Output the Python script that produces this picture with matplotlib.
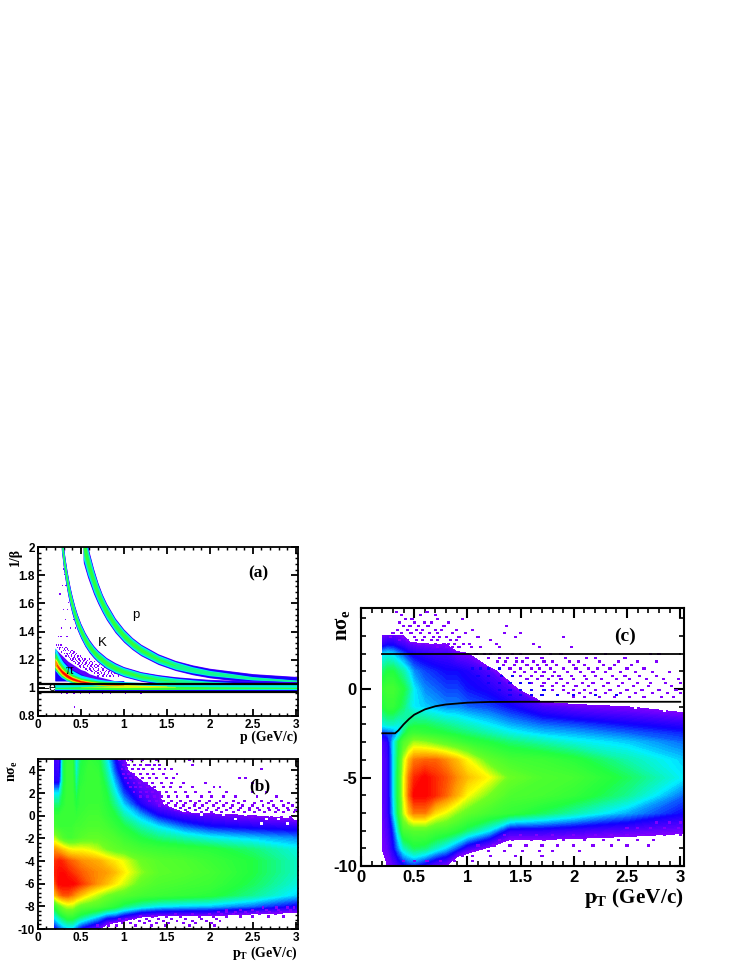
import matplotlib
matplotlib.use("Agg")
import matplotlib.pyplot as plt
import numpy as np
from matplotlib.colors import LinearSegmentedColormap

plt.rcParams['mathtext.default'] = 'regular'

E = -0.2  # no entries

# panel (a): band centres and half widths
p_prot = [.53,.55,.58,.60,.65,.70,.75,.80,.90,1.0,1.1,1.2,1.4,1.6,1.8,2.0,2.5,3.03]
y_prot = [2.03,1.977,1.90,1.856,1.756,1.672,1.601,1.541,1.444,1.371,1.314,1.269,1.204,1.159,1.128,1.105,1.068,1.048]
hw_prot_outer = [.14,.13,.115,.105,.09,.075,.065,.06,.052,.047,.043,.041,.038,.036,.035,.034,.033,.032]
hw_prot_cyan = [.115,.105,.095,.085,.073,.061,.053,.049,.042,.038,.035,.033,.029,.027,.022,.019,.012,.006]
hw_prot_green = [.048,.044,.04,.036,.03,.026,.022,.021,.018,.016,.014,.012,.008,.003,0,0,0,0]
p_kaon = [.275,.30,.32,.34,.36,.38,.40,.43,.46,.50,.55,.60,.65,.70,.80,.90,1.0,1.2,1.4,1.6,1.8,2.0,2.5,3.03]
y_kaon = [2.056,1.926,1.839,1.764,1.698,1.64,1.589,1.523,1.467,1.406,1.344,1.295,1.256,1.224,1.175,1.141,1.115,1.081,1.061,1.047,1.037,1.030,1.019,1.013]
hw_kaon_outer = [.08,.078,.075,.072,.07,.067,.065,.06,.057,.053,.05,.047,.044,.042,.04,.038,.036,.034,.033,.032,.032,.03,.03,.03]
hw_kaon_cyan = [.062,.06,.056,.056,.054,.052,.05,.047,.045,.042,.04,.037,.035,.034,.032,.03,.029,.027,.025,.022,.02,.017,.011,.006]
hw_kaon_green = [.024,.024,.024,.024,.022,.022,.021,.02,.019,.018,.017,.016,.015,.014,.014,.013,.011,.008,.004,.002,0,0,0,0]
p_pion = [.2,.22,.24,.26,.28,.30,.33,.36,.40,.45,.5,.6,.7,.8,1.0,1.2,1.5,2.0,2.5,3.03]
y_pion = [1.18,1.165,1.145,1.13,1.115,1.105,1.09,1.078,1.065,1.055,1.046,1.036,1.029,1.024,1.018,1.014,1.011,1.01,1.01,1.01]
hw_pion_cyan = [.07,.068,.064,.06,.055,.05,.047,.043,.04,.035,.03,.026,.022,.02,.018,.016,.014,.012,.01,.008]
hw_pion_green = [.055,.052,.047,.042,.04,.036,.034,.03,.026,.022,.02,.018,.016,.015,.014,.012,.008,.006,.004,.002]
hw_pion_yellow = [.034,.032,.028,.026,.024,.022,.02,.018,.017,.015,.013,.011,.010,.009,.007,.005,.002,0,0,0]
hw_pion_orange = [.02,.02,.018,.018,.017,.016,.015,.014,.012,.011,.009,.007,.006,.005,.002,0,0,0,0,0]
hw_pion_red = [0,.004,.006,.008,.009,.010,.010,.009,.007,.006,.004,.003,.002,0,0,0,0,0,0,0]
p_cloud = [.2,.25,.3,.35,.4,.45,.5,.55,.6,.7,.8,.9,1.0]
y_cloud_top = [1.28,1.25,1.22,1.19,1.17,1.15,1.13,1.12,1.10,1.08,1.065,1.05,1.04]
y_cloud_blue = [1.26,1.23,1.19,1.16,1.13,1.115,1.10,1.085,1.07,1.055,1.045,1.04,1.03]
p_elec = [.2,.3,.4,.5,.7,.9,1.1,1.3,1.6,2.0,2.5,3.03]
hw_elec_green = [.004,.005,.007,.009,.011,.012,.012,.012,.011,.008,.006,.004]
hw_elec_yellow = [0,0,0,.001,.003,.005,.005,.004,.002,0,0,0]

a_rows = [
 (1.30, [.22,.24,.27]), (1.28, [.23,.26,.29,.33]), (1.27, [.25,.31,.35]), (1.26, [.30,.32,.36,.40]),
 (1.25, [.28,.38,.42]), (1.24, [.31,.34,.37,.41,.45]), (1.23, [.35,.39,.44]), (1.22, [.33,.36,.39,.43,.47,.50]),
 (1.21, [.37,.42,.46,.51]), (1.20, [.38,.41,.44,.48,.52,.55,.60]), (1.19, [.40,.45,.49,.54,.58]),
 (1.18, [.42,.46,.50,.53,.57,.62,.66]), (1.17, [.44,.48,.52,.56,.60,.64]),
 (1.16, [.47,.51,.55,.59,.63,.68,.72]), (1.15, [.49,.53,.58,.62,.66,.70]), (1.14, [.50,.54,.60,.64,.68,.74,.78]),
 (1.13, [.56,.61,.65,.71,.76]), (1.12, [.58,.62,.66,.70,.76,.80,.84]), (1.11, [.63,.68,.73,.79,.83]),
 (1.10, [.66,.70,.74,.78,.82,.86,.90]), (1.09, [.72,.77,.81,.87]), (1.08, [.70,.76,.80,.84,.88,.94]),
 (1.36, [.24,.27,.34]), (1.42, [.28,.38,.44]), (1.48, [.32,.42]), (1.55, [.35,.30]),
 (1.60, [.41,.36]), (1.66, [.26,.37]), (1.72, [.33,.29]), (1.80, [.34,.31]), (1.84, [.30]),
 (.968, [.26,.31,.38,.47,.55,.64,.70,.80,.90,.97,1.10,1.30,1.42,1.6]),
 (.958, [.28,.34,.42,.50,.60,.75,.85,1.02,1.2]),
 (.86, [.43]),
]

# panels (b), (c): colour level per grid node, rows listed from the top
x_b = [.2,.25,.3,.35,.4,.45,.5,.6,.7,.8,.9,1.0,1.2,1.4,1.7,2.0,2.5,3.03]
y_b = [5,4,3,2,1,0,-1,-2,-3,-4,-5,-6,-7,-8,-9,-10]
z_b = [
 [.08,.04,.40,.46,.46,.28,.40,.46,.44,.30,.14,.02,E,E,E,E,E,E],
 [.10,.08,.40,.48,.48,.30,.42,.48,.46,.34,.18,.06,E,E,E,E,E,E],
 [.12,.12,.40,.48,.48,.34,.44,.48,.48,.38,.24,.12,.02,E,E,E,E,E],
 [.28,.28,.42,.48,.48,.38,.46,.48,.48,.42,.30,.18,.06,.02,E,E,E,E],
 [.38,.38,.44,.48,.48,.42,.46,.48,.48,.44,.36,.26,.12,.03,E,E,E,E],
 [.46,.46,.48,.48,.48,.46,.48,.50,.50,.46,.42,.34,.24,.14,.07,.04,.0,-.05],
 [.50,.48,.48,.48,.48,.50,.50,.52,.52,.50,.46,.42,.34,.28,.20,.15,.12,.10],
 [.65,.58,.52,.50,.50,.52,.54,.56,.56,.54,.52,.48,.42,.38,.34,.30,.26,.22],
 [.85,.82,.78,.74,.72,.72,.72,.70,.66,.60,.56,.54,.50,.48,.46,.44,.38,.30],
 [.95,.97,.95,.92,.90,.88,.86,.84,.82,.78,.74,.70,.58,.54,.52,.48,.42,.32],
 [.97,.99,.99,.97,.95,.93,.91,.88,.86,.84,.80,.74,.62,.55,.53,.50,.42,.32],
 [.92,1.0,1.0,1.0,1.0,.98,.95,.90,.85,.80,.74,.68,.56,.52,.50,.48,.40,.30],
 [.80,.88,.92,.92,.88,.84,.80,.72,.66,.60,.56,.54,.50,.48,.46,.44,.36,.26],
 [.45,.55,.62,.66,.66,.60,.56,.54,.52,.48,.44,.38,.32,.28,.26,.25,.20,.12],
 [.28,.34,.40,.44,.44,.40,.36,.30,.24,.16,.14,.08,-.02,-.05,-.05,-.05,-.1,-.1],
 [.12,.18,.22,.25,.25,.18,.12,.06,.02,-.1,E,E,E,E,E,E,E,E],
]
b_rows = [
 (4.8, [.95,1.05,1.09,1.22,1.38,1.76]), (4.4, [1.0,1.06,1.13,1.2,1.26,1.3,1.36,1.42,1.8]),
 (4.0, [.98,1.03,1.1,1.17,1.23,1.33,1.42,1.48,1.56,2.6]), (3.6, [1.0,1.06,1.12,1.2,1.28,1.35,1.46,1.62]),
 (3.2, [1.02,1.08,1.14,1.22,1.3,1.38,1.5,1.58,2.35,2.42]), (2.8, [1.05,1.12,1.18,1.26,1.34,1.44,1.56,1.7,1.95,2.5]),
 (2.4, [1.08,1.14,1.2,1.28,1.36,1.46,1.54,1.66,1.8,2.05,2.12]), (2.0, [1.12,1.2,1.26,1.34,1.42,1.5,1.6,1.72,1.84,2.0,2.2,2.5,2.66]),
 (1.6, [1.2,1.28,1.36,1.44,1.52,1.62,1.74,1.9,2.02,2.16,2.3,2.55,2.78]),
 (1.2, [1.3,1.38,1.46,1.56,1.66,1.78,1.88,2.0,2.12,2.28,2.4,2.6,2.72,2.84]),
 (1.0, [1.44,1.52,1.62,1.72,1.84,1.96,2.08,2.2,2.34,2.52,2.68,2.92]),
 (.8, [1.42,1.5,1.6,1.7,1.82,1.92,2.04,2.16,2.26,2.38,2.5,2.62,2.74,2.86,2.96]),
 (.6, [1.55,1.66,1.76,1.88,1.98,2.1,2.24,2.36,2.46,2.56,2.68,2.78,2.9]),
 (.4, [1.6,1.72,1.84,1.96,2.08,2.2,2.34,2.46,2.58,2.7,2.8,2.92,3.0]),
 (.2, [1.74,1.9,2.02,2.14,2.28,2.4,2.52,2.64,2.76,2.86,2.98]),
 (-.2, [2.5,2.62,2.72,2.84,2.94]),
 (-8.2, [2.62,2.78,2.9,2.98]), (-8.4, [2.2,2.36,2.5,2.66,2.8,2.94]),
 (-8.6, [2.1,2.2,2.3,2.42,2.56,2.7,2.82,2.94]), (-8.8, [1.6,1.8,2.0,2.14,2.28,2.44,2.58,2.76]),
 (-9.0, [1.2,1.34,1.5,1.66,1.88,2.04,2.2,2.36,2.5,2.68,2.86]),
 (-9.2, [.95,1.03,1.12,1.26,1.4,1.56,1.72,1.9,2.08]), (-9.4, [1.0,1.18,1.3,1.46,1.62,1.8,1.96,2.12]),
 (-9.6, [.85,.98,1.08,1.24,1.38,1.52,1.7,1.84,2.02]), (-9.8, [.7,.82,.92,1.14,1.32,1.48,1.76,2.06]),
]
b_gap_rows = [(0.0, [1.9,2.16,2.42,2.6,2.82]), (-.4, [2.3,2.66,2.8,3.0]), (-.8, [2.6,2.9])]

x_c = [.2,.25,.3,.35,.4,.45,.5,.6,.7,.8,.9,1.0,1.2,1.4,1.7,2.0,2.5,3.03]
y_c = [3,2.5,2,1,0,-1,-2,-2.5,-3,-4,-5,-6,-7,-8,-9,-10]
z_c = [
 [.02,.04,.04,.02,.0,-.1,-.1,E,E,E,E,E,E,E,E,E,E,E],
 [.10,.13,.13,.10,.08,.05,.03,.02,.01,.0,-.1,E,E,E,E,E,E,E],
 [.26,.28,.26,.22,.18,.14,.12,.10,.08,.08,.03,.01,E,E,E,E,E,E],
 [.38,.42,.42,.38,.34,.28,.22,.18,.16,.14,.14,.12,.06,-.1,E,E,E,E],
 [.46,.50,.50,.46,.42,.36,.28,.22,.20,.18,.18,.15,.12,.06,E,E,E,E],
 [.42,.46,.46,.42,.38,.32,.28,.26,.24,.22,.22,.20,.18,.14,.07,.03,.0,-.05],
 [.30,.32,.32,.30,.32,.38,.40,.40,.38,.36,.34,.32,.28,.24,.20,.18,.14,.10],
 [.16,.18,.20,.26,.38,.46,.48,.46,.44,.42,.40,.38,.34,.30,.26,.24,.20,.16],
 [.06,.10,.26,.40,.52,.58,.64,.62,.58,.54,.50,.46,.42,.38,.34,.30,.26,.20],
 [.04,.08,.26,.42,.66,.80,.88,.90,.90,.86,.80,.72,.56,.50,.48,.44,.34,.26],
 [.04,.08,.26,.44,.70,.88,.96,1.0,.96,.92,.86,.80,.72,.58,.52,.50,.40,.28],
 [.04,.08,.26,.44,.70,.90,1.0,1.0,.96,.90,.82,.72,.60,.52,.50,.46,.36,.20],
 [.03,.08,.24,.42,.66,.80,.88,.88,.76,.70,.62,.56,.50,.46,.40,.34,.24,.14],
 [.02,.06,.16,.32,.50,.52,.54,.54,.50,.48,.44,.38,.28,.10,.10,.08,.05,.02],
 [.01,.04,.12,.22,.32,.36,.40,.38,.32,.26,.18,.08,-.02,-.1,-.1,-.1,-.1,-.1],
 [E,.0,.04,.08,.12,.15,.16,.10,.03,.0,E,E,E,E,E,E,E,E],
]
c_rows = [
 (4.3, [.33,.62]), (4.1, [.38,.56,.7]), (3.9, [.42,.48,.72,.95]), (3.7, [.36,.5,.6,.66,.82]),
 (3.5, [.4,.46,.54,.63,.78,1.37]), (3.3, [.34,.44,.52,.58,.7,.76,.9,1.05]),
 (3.1, [.3,.38,.47,.56,.64,.72,.86,.98,1.35,1.5]), (2.9, [.28,.4,.5,.6,.68,.74,.8,.92,1.1,1.45,1.9]),
 (2.7, [.36,.44,.52,.58,.66,.72,.84,.9,1.22]), (2.5, [.55,.62,.7,.78,.82,.88,.96,1.02,1.27,1.62]),
 (2.3, [.72,.8,.86,.92,1.04,1.12,1.3,1.68,1.98]),
 (1.9, [1.0,1.08,1.16,1.22,1.3,1.42,1.5,1.78,1.88,2.3,2.72,2.8]), (1.7, [1.2,1.3,1.38,1.46,1.56,1.7,1.92,2.12,2.2,2.48]),
 (1.5, [1.28,1.36,1.46,1.52,1.62,1.72,1.8,1.96,2.04,2.24,2.42,2.6,2.78]), (1.3, [1.34,1.44,1.56,1.66,1.74,1.84,2.0,2.1,2.28,2.38,2.54]),
 (1.1, [1.4,1.5,1.6,1.68,1.78,1.9,2.02,2.14,2.22,2.34,2.5,2.66]), (.9, [1.44,1.54,1.64,1.72,1.82,1.94,2.06,2.18,2.3,2.44,2.58,2.74,2.9]),
 (.7, [1.5,1.6,1.7,1.8,1.86,1.98,2.1,2.2,2.36,2.48,2.62,2.78]), (.5, [1.56,1.66,1.76,1.88,2.0,2.12,2.26,2.4,2.52,2.68,2.84,2.98]),
 (.3, [1.6,1.72,1.84,1.94,2.08,2.18,2.32,2.46,2.6,2.72,2.86,3.0]), (.1, [1.7,1.8,1.9,2.02,2.14,2.28,2.42,2.56,2.7,2.92]),
 (-.1, [1.8,1.9,2.0,2.1,2.2,2.34,2.5,2.64,2.8,2.96]), (-.3, [1.95,2.05,2.16,2.3,2.44,2.58,2.74,2.88,3.0]),
 (-.5, [2.0,2.1,2.24,2.38,2.52,2.66,2.82,2.94]),
 (-7.6, [2.78,2.9,3.0]), (-7.9, [2.5,2.6,2.72,2.85,2.98]),
 (-8.3, [1.35,1.5,1.65,1.8,2.0,2.2,2.35,2.5,2.65,2.85,3.0]), (-8.6, [1.3,1.42,1.6,1.72,1.9,2.1,2.28,2.42,2.6,2.75]),
 (-8.9, [1.1,1.25,1.4,1.55,1.7,1.85,2.0,2.18,2.35,2.5,2.7]), (-9.2, [1.05,1.2,1.35,1.52,1.68,1.8,2.05]),
 (-9.5, [.95,1.05,1.22,1.45,1.7]), (-9.8, [.4,.5,.62,.75,.88,1.05]),
]
c_blue_rows = [
 (1.1, [1.05,1.12,1.2,1.3]), (.7, [1.1,1.2,1.32,1.42]), (.3, [1.2,1.3,1.4,1.5,1.58]),
 (-.1, [1.3,1.4,1.5,1.6,1.72]), (-.4, [1.4,1.5,1.6,1.7,1.85,2.0,2.2,2.4]),
]
c_gap_rows = [(-.9, [2.2,2.45,2.62,2.84,2.96]), (-1.1, [2.58,2.74,2.92]), (-1.3, [2.85,2.98])]

c_line_x = [.2,.32,.35,.4,.45,.5,.6,.7,.8,1.0,1.2,1.5,3.0]
c_line_y = [-2.5,-2.5,-2.35,-2.0,-1.7,-1.45,-1.15,-.97,-.87,-.77,-.73,-.72,-.72]
c_top_x = [.2,3.0]
c_top_y = [2.0,2.0]

x_ticks = [0,.5,1,1.5,2,2.5,3]
x_labels = ['0','0.5','1','1.5','2','2.5','3']
a_yticks = [.8,1,1.2,1.4,1.6,1.8,2]
a_ylabels = ['0.8','1','1.2','1.4','1.6','1.8','2']
b_yticks = [-10,-8,-6,-4,-2,0,2,4]
b_ylabels = ['-10','-8','-6','-4','-2','0','2','4']
c_yticks = [-10,-5,0]
c_ylabels = ['-10','-5','0']

rainbow = LinearSegmentedColormap.from_list('root', [(0,'#8000ff'),(.14,'#1000ff'),(.28,'#00f0ff'),(.42,'#20ff40'),(.6,'#70ff20'),(.72,'#ffff00'),(.86,'#ff9000'),(1,'#ff0000')])
PURPLE = '#8000ff'
SANS = 'Liberation Sans'
SERIF = 'Liberation Serif'

W, H = 747, 967
fig = plt.figure(figsize=(W/100, H/100), dpi=100)

def make_ax(l, t, r, b):
    return fig.add_axes([l/W, 1-b/H, (r-l)/W, (b-t)/H])

def style(ax, xlim, ylim, yt, yl, ymin, size, mlen, lw, pad=2):
    ax.set_xlim(xlim)
    ax.set_ylim(ylim)
    ax.set_xticks(x_ticks)
    ax.set_xticklabels(x_labels, family=SANS, fontweight='bold', fontsize=size)
    ax.set_yticks(yt)
    ax.set_yticklabels(yl, family=SANS, fontweight='bold', fontsize=size)
    ax.set_xticks(np.arange(0, 3.01, .1), minor=True)
    ax.set_yticks(ymin, minor=True)
    ax.tick_params(which='major', direction='in', top=True, right=True, length=mlen, width=lw, pad=pad)
    ax.tick_params(which='minor', direction='in', top=True, right=True, length=mlen/2, width=lw*.8)
    for s in ax.spines.values():
        s.set_linewidth(lw)
        s.set_zorder(10)

def band(ax, p, c, hw, level, z=2, up=1.0, down=1.0):
    c = np.array(c)
    hw = np.array(hw)
    ax.fill_between(p, c-hw*down, c+hw*up, where=hw > 0, color=rainbow(level), lw=0, zorder=z)

def specks(ax, rows, dx, dy, color=PURPLE, z=3):
    x = [v for y, xs in rows for v in xs]
    y = [y for y, xs in rows for v in xs]
    ax.bar(x, dy, width=dx, bottom=y, align='center', color=color, lw=0, zorder=z)

levels = np.linspace(0, 1, 101)

# (a)
ax = make_ax(37.7, 547, 298.3, 716)
specks(ax, a_rows, .016, .01, z=1.5)
ax.fill_between(p_cloud, 1.05, y_cloud_top, color=rainbow(.05), lw=0, zorder=2)
ax.fill_between(p_cloud, 1.05, y_cloud_blue, color=rainbow(.14), lw=0, zorder=2)
for p, y, o, c, g in [(p_prot, y_prot, hw_prot_outer, hw_prot_cyan, hw_prot_green),
                      (p_kaon, y_kaon, hw_kaon_outer, hw_kaon_cyan, hw_kaon_green)]:
    band(ax, p, y, o, .02)
    band(ax, p, y, np.array(o)*.9, .13)
    band(ax, p, y, c, .28)
    band(ax, p, y, np.array(c)*.72, .36)
    band(ax, p, y, g, .46)
ones = [1.0]*len(p_elec)
band(ax, p_pion, y_pion, hw_pion_cyan, .28, z=3, up=1.5, down=.8)
band(ax, p_pion, y_pion, hw_pion_green, .46, z=3, up=1.3, down=.9)
band(ax, p_elec, ones, [.027]*len(p_elec), .02, z=3)
band(ax, p_elec, ones, [.022]*len(p_elec), .14, z=3)
band(ax, p_elec, ones, [.017]*len(p_elec), .30, z=3)
band(ax, p_elec, ones, hw_elec_green, .46, z=3)
band(ax, p_pion, y_pion, hw_pion_yellow, .72, z=3)
band(ax, p_elec, [1.008]*len(p_elec), hw_elec_yellow, .70, z=3)
band(ax, p_pion, y_pion, hw_pion_orange, .86, z=3)
band(ax, p_pion, y_pion, hw_pion_red, 1.0, z=3)
ax.plot([0, 3.03], [1.03, 1.03], color='k', lw=1.6, zorder=5)
ax.plot([0, 3.03], [.97, .97], color='k', lw=1.6, zorder=5)
ax.plot([.02, .12], [1.0, 1.0], color='k', lw=.7, zorder=5)
style(ax, (0, 3.03), (.8, 2), a_yticks, a_ylabels, np.arange(.8, 2.01, .04), 8.5, 5, 1.3)
ax.text(.13, 1.0, 'e', family=SANS, fontsize=9, va='center', zorder=6)
ax.text(.33, 1.12, 'π', family=SERIF, fontsize=11, va='center', zorder=6)
ax.text(.70, 1.32, 'K', family=SANS, fontsize=9.5, va='center', zorder=6)
ax.text(1.10, 1.52, 'p', family=SANS, fontsize=9.5, va='center', zorder=6)
ax.text(2.56, 1.81, '(a)', family=SERIF, fontweight='bold', fontsize=12.5, ha='center', va='center')
fig.text(298/W, 1-741/H, 'p (GeV/c)', family=SERIF, fontweight='bold', fontsize=10, ha='right', va='baseline')
fig.text(15/W, 1-548/H, '1/β', family=SERIF, fontweight='bold', fontsize=10, rotation=90, ha='center', va='top')

# (b)
ax = make_ax(37.7, 759, 298.3, 929)
ax.contourf(x_b, y_b, z_b, levels=levels, cmap=rainbow, zorder=2)
specks(ax, b_rows, .034, .2)
specks(ax, b_gap_rows, .034, .2, color='white')
style(ax, (0, 3.03), (-10, 5), b_yticks, b_ylabels, np.arange(-10, 5.01, .4), 8.5, 5, 1.3)
ax.text(2.58, 2.55, '(b)', family=SERIF, fontweight='bold', fontsize=12.5, ha='center', va='center')
fig.text(298/W, 1-957/H, 'p$_{T}$ (GeV/c)', family=SERIF, fontweight='bold', fontsize=10, ha='right', va='baseline')
fig.text(13/W, 1-760/H, 'nσ$_{e}$', family=SERIF, fontweight='bold', fontsize=10, rotation=90, ha='center', va='top')

# (c)
ax = make_ax(361, 608, 684, 866)
ax.contourf(x_c, y_c, z_c, levels=levels, cmap=rainbow, zorder=2)
specks(ax, c_rows, .03, .12)
specks(ax, c_blue_rows, .03, .12, color='#1000ff')
specks(ax, c_gap_rows, .03, .12, color='white')
ax.plot(c_top_x, c_top_y, color='k', lw=1.3, zorder=5)
ax.plot(c_line_x, c_line_y, color='k', lw=1.3, zorder=5)
style(ax, (0, 3.035), (-10, 4.58), c_yticks, c_ylabels, np.arange(-10, 4.01, 1), 12, 7, 1.5, pad=3)
ax.text(2.48, 2.95, '(c)', family=SERIF, fontweight='bold', fontsize=14, ha='center', va='center')
fig.text(684/W, 1-903/H, 'p$_{T}$ (GeV/c)', family=SERIF, fontweight='bold', fontsize=15.3, ha='right', va='baseline')
fig.text(342/W, 1-625/H, 'nσ$_{e}$', family=SERIF, fontweight='bold', fontsize=15, rotation=90, ha='center', va='center')

fig.savefig('out.png', dpi=100)
